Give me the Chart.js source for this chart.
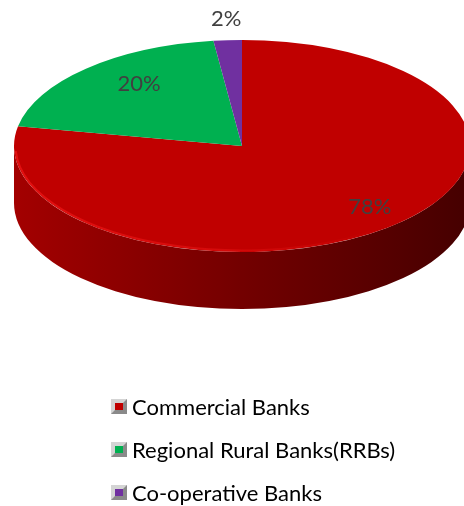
<!DOCTYPE html>
<html lang="en">
<head>
    <meta charset="UTF-8">
    <title>Banks Share</title>
    <script src="https://cdn.jsdelivr.net/npm/chart.js@4/dist/chart.umd.min.js"></script>
    <style>
      html, body { margin: 0; padding: 0; background: #fff; }
      #wrap { position: relative; width: 464px; height: 506px; overflow: hidden; }
      #pieChart { position: absolute; left: 0; top: 0; }
      #legend { position: absolute; left: 111px; top: 385px; font-family: Lato, "Open Sans", sans-serif; font-size: 22px; color: #000; }
      .item { display: flex; align-items: center; height: 43px; }
      .box { width: 16px; height: 15px; box-sizing: border-box; border: 4px solid; border-color: #d4d4d4 #8a8a8a #8a8a8a #d4d4d4; margin-right: 5px; }
    </style>
</head>
<body>
    <div id="wrap">
        <canvas id="pieChart" width="464" height="506"></canvas>
        <div id="legend"></div>
    </div>

    <script>
        // data
        const labels = ['Commercial Banks', 'Regional Rural Banks(RRBs)', 'Co-operative Banks'];
        const shares = [78, 20, 2];
        const colors = ['#C00000', '#00B050', '#7030A0'];

        // shade a hex colour by factor (<1 darker)
        function shade(hex, f) {
            const n = parseInt(hex.slice(1), 16);
            const r = Math.min(255, Math.round((n >> 16) * f));
            const g = Math.min(255, Math.round(((n >> 8) & 255) * f));
            const b = Math.min(255, Math.round((n & 255) * f));
            return `rgb(${r},${g},${b})`;
        }

        // squash the flat pie into a tilted disc with a side wall
        const tilt = {
            id: 'tilt',
            beforeDatasetsDraw(chart, args, opts) {
                const meta = chart.getDatasetMeta(0);
                const ctx = chart.ctx;
                const { X0, Y0, rx, ry, depth } = opts;
                ctx.save();
                // side wall, only the front half (canvas angles 0..PI) shows
                meta.data.forEach((arc, i) => {
                    const p = arc.getProps(['startAngle', 'endAngle']);
                    [0, 2 * Math.PI, -2 * Math.PI].forEach(off => {
                        const a = Math.max(p.startAngle, off);
                        const b = Math.min(p.endAngle, off + Math.PI);
                        if (b <= a) return;
                        const grad = ctx.createLinearGradient(X0 - rx, 0, X0 + rx, 0);
                        grad.addColorStop(0, shade(colors[i], 0.85));
                        grad.addColorStop(0.5, shade(colors[i], 0.6));
                        grad.addColorStop(1, shade(colors[i], 0.36));
                        ctx.beginPath();
                        ctx.ellipse(X0, Y0, rx, ry, 0, a, b, false);
                        ctx.ellipse(X0, Y0 + depth, rx, ry, 0, b, a, true);
                        ctx.closePath();
                        ctx.fillStyle = grad;
                        ctx.fill();
                    });
                });
                const el = meta.data[0];
                const R = el.outerRadius;
                ctx.translate(X0, Y0);
                ctx.scale(rx / R, ry / R);
                ctx.translate(-el.x, -el.y);
            },
            afterDatasetsDraw(chart, args, opts) {
                const ctx = chart.ctx;
                ctx.restore();
                const meta = chart.getDatasetMeta(0);
                const { X0, Y0, rx, ry, labelRadius, labelLift } = opts;
                // faint light rim on the front-left edge
                ctx.save();
                const rim = ctx.createLinearGradient(X0 - rx, 0, X0 + rx, 0);
                rim.addColorStop(0, 'rgba(255,30,30,0.55)');
                rim.addColorStop(0.45, 'rgba(255,30,30,0.35)');
                rim.addColorStop(0.8, 'rgba(255,30,30,0)');
                ctx.beginPath();
                ctx.ellipse(X0, Y0, rx - 1.5, ry - 1.5, 0, 0.3, Math.PI - 0.05);
                ctx.strokeStyle = rim;
                ctx.lineWidth = 2;
                ctx.stroke();
                ctx.restore();

                // percentage labels
                ctx.save();
                ctx.font = '22px Lato, "Open Sans", sans-serif';
                ctx.fillStyle = '#404040';
                ctx.textAlign = 'center';
                ctx.textBaseline = 'middle';
                meta.data.forEach((arc, i) => {
                    const p = arc.getProps(['startAngle', 'endAngle']);
                    const mid = (p.startAngle + p.endAngle) / 2;
                    const f = labelRadius[i];
                    const x = X0 + rx * f * Math.cos(mid);
                    const y = Y0 + ry * f * Math.sin(mid) - labelLift;
                    ctx.fillText(shares[i] + '%', x, y);
                });
                ctx.restore();
            }
        };

        new Chart(document.getElementById('pieChart'), {
            type: 'pie',
            data: {
                labels: labels,
                datasets: [{
                    data: shares,
                    backgroundColor: colors,
                    borderWidth: 0,
                    clip: false
                }]
            },
            options: {
                responsive: false,
                animation: false,
                plugins: {
                    legend: { display: false },
                    tooltip: { enabled: false },
                    tilt: { X0: 242, Y0: 146, rx: 228, ry: 106, depth: 57, labelRadius: [0.88, 0.66, 1.1], labelLift: 11 }
                }
            },
            plugins: [tilt]
        });

        // legend
        const legend = document.getElementById('legend');
        labels.forEach((name, i) => {
            const item = document.createElement('div');
            item.className = 'item';
            item.innerHTML = `<span class="box" style="background:${colors[i]}"></span><span>${name}</span>`;
            legend.appendChild(item);
        });
    </script>
</body>
</html>
